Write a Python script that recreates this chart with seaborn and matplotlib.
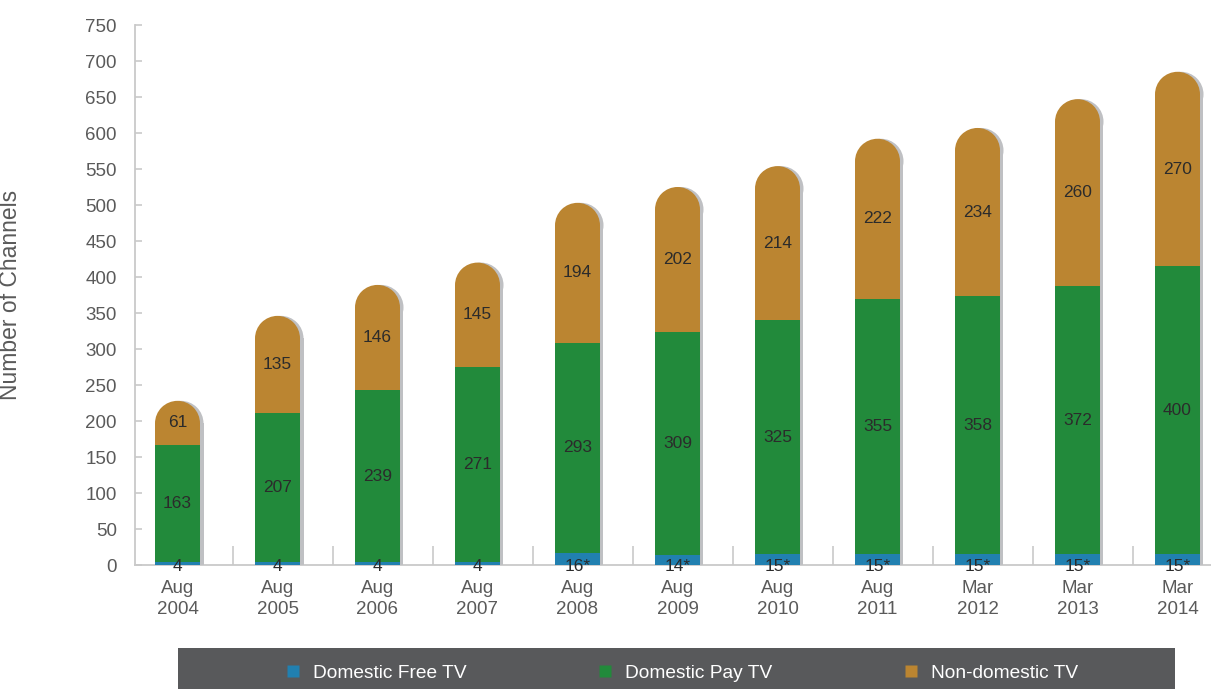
import matplotlib
matplotlib.use("Agg")
import matplotlib.pyplot as plt
from matplotlib.patches import Ellipse, Rectangle
from matplotlib.lines import Line2D
from matplotlib.transforms import offset_copy
import seaborn as sns
import pandas as pd

# ---- data -------------------------------------------------------------
months = ["Aug", "Aug", "Aug", "Aug", "Aug", "Aug", "Aug", "Aug", "Mar", "Mar", "Mar"]
years = [2004, 2005, 2006, 2007, 2008, 2009, 2010, 2011, 2012, 2013, 2014]
free_tv = [4, 4, 4, 4, 16, 14, 15, 15, 15, 15, 15]
free_labels = ["4", "4", "4", "4", "16*", "14*", "15*", "15*", "15*", "15*", "15*"]
pay_tv = [163, 207, 239, 271, 293, 309, 325, 355, 358, 372, 400]
nondomestic_tv = [61, 135, 146, 145, 194, 202, 214, 222, 234, 260, 270]
y_ticks = list(range(0, 751, 50))
series_names = ["Domestic Free TV", "Domestic Pay TV", "Non-domestic TV"]

# ---- style ------------------------------------------------------------
colors = ["#2180b0", "#228a3b", "#bb8531"]
shadow_color = "#bfc0c3"
axis_gray = "#c9c9c9"
text_gray = "#5a5a5a"
value_color = "#2b2b2b"
legend_bg = "#58595b"
bar_width = 0.45

sns.set_theme(style="white")
plt.rcParams["font.family"] = ["Liberation Sans", "DejaVu Sans"]

W, H = 1211, 689
fig = plt.figure(figsize=(W / 100, H / 100), dpi=100)
ax = fig.add_axes([135 / W, 124 / H, (W - 135) / W, 540 / H])

xlim = (-0.425, 10.335)
ylim = (0, 750)
ax.set_xlim(*xlim)
ax.set_ylim(*ylim)

periods = [f"{m}\n{y}" for m, y in zip(months, years)]
df = pd.DataFrame({
    "period": periods,
    "free": free_tv,
    "pay": pay_tv,
    "nondom": nondomestic_tv,
})
df["pay_top"] = df["free"] + df["pay"]
df["total"] = df["pay_top"] + df["nondom"]

# rounded cap: half-width of a bar expressed in y data units
x0_px = ax.transData.transform((0, 0))
x1_px = ax.transData.transform((bar_width / 2, 0))
half_w_px = x1_px[0] - x0_px[0]
y_px_per_unit = ax.transData.transform((0, 1))[1] - x0_px[1]
cap_ry = half_w_px / y_px_per_unit
df["body"] = df["total"] - cap_ry

bar_kw = dict(x="period", order=periods, width=bar_width, saturation=1,
              errorbar=None, linewidth=0, ax=ax)

# drop shadow, shifted a few pixels to the right
shadow_tr = offset_copy(ax.transData, fig=fig, x=3.5, y=0, units="dots")
n_before = len(ax.patches)
sns.barplot(data=df, y="body", color=shadow_color, **bar_kw)
for p in ax.patches[n_before:]:
    p.set_transform(shadow_tr)
for i, row in df.iterrows():
    ax.add_patch(Ellipse((i, row["body"]), bar_width, 2 * cap_ry,
                         facecolor=shadow_color, edgecolor="none",
                         transform=shadow_tr, zorder=0.9))

# stacked columns: full height (non-domestic), then pay, then free
sns.barplot(data=df, y="body", color=colors[2], **bar_kw)
for i, row in df.iterrows():
    ax.add_patch(Ellipse((i, row["body"]), bar_width, 2 * cap_ry,
                         facecolor=colors[2], edgecolor="none", zorder=0.95))
sns.barplot(data=df, y="pay_top", color=colors[1], **bar_kw)
sns.barplot(data=df, y="free", color=colors[0], **bar_kw)

# value labels
label_size = 12.5
for i, row in df.iterrows():
    ax.text(i, -2, free_labels[i], ha="center", va="center",
            fontsize=label_size, color=value_color, zorder=5)
    ax.text(i, (row["free"] + row["pay_top"]) / 2, str(row["pay"]),
            ha="center", va="center", fontsize=label_size, color=value_color, zorder=5)
    ax.text(i, (row["pay_top"] + row["total"]) / 2, str(row["nondom"]),
            ha="center", va="center", fontsize=label_size, color=value_color, zorder=5)

ax.set_xlim(*xlim)
ax.set_ylim(*ylim)

# axes cosmetics
for side in ["top", "right"]:
    ax.spines[side].set_visible(False)
for side in ["left", "bottom"]:
    ax.spines[side].set_color(axis_gray)
    ax.spines[side].set_linewidth(1.3)
    ax.spines[side].set_zorder(0.5)

ax.set_yticks(y_ticks)
ax.set_yticklabels([str(t) for t in y_ticks])
ax.tick_params(axis="y", direction="in", length=5, width=1.2, color=axis_gray,
               labelsize=13.5, labelcolor=text_gray, pad=13, left=True)
ax.tick_params(axis="x", length=0, labelsize=13.5, labelcolor=text_gray, pad=11)
ax.set_xticks(range(len(periods)))
ax.set_xticklabels(periods, linespacing=1.25)
ax.set_xticks([i + 0.555 for i in range(len(periods) - 1)], minor=True)
ax.tick_params(axis="x", which="minor", direction="in", length=14, width=1.2,
               color=axis_gray, bottom=True)
ax.set_xlabel("")
ax.set_ylabel("Number of Channels", fontsize=16.5, color=text_gray)
ax.yaxis.set_label_coords((22 - 135) / (W - 135), 0.5)
ax.grid(False)

# legend band along the bottom
fig.patches.append(Rectangle((178 / W, 0), (1175 - 178) / W, 41 / H,
                             transform=fig.transFigure, facecolor=legend_bg,
                             edgecolor="none", zorder=0))
legend_x = [287, 599, 905]
for name, col, lx in zip(series_names, colors, legend_x):
    handle = Line2D([], [], linestyle="none", marker="s", markersize=9,
                    markerfacecolor=col, markeredgecolor="none")
    fig.legend(handles=[handle], labels=[name], loc="center left",
               bbox_to_anchor=(lx / W, (H - 673) / H), frameon=False,
               fontsize=13.8, labelcolor="white", handlelength=0.65,
               handletextpad=0.72, borderpad=0, borderaxespad=0)

fig.savefig("out.png", dpi=100)
